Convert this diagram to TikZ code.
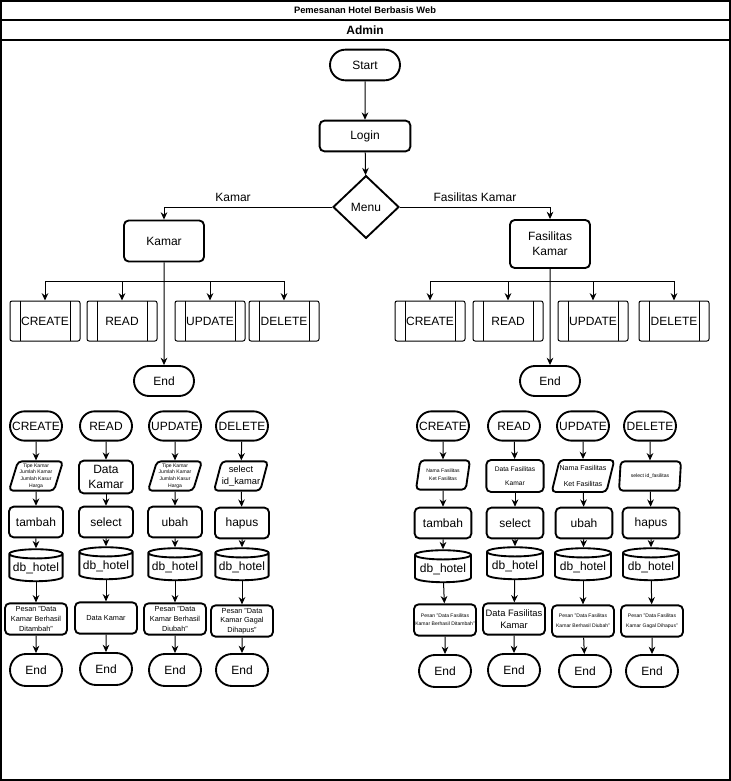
\documentclass[tikz,border=0pt]{standalone}
\usepackage{fontspec}
\setmainfont{Liberation Sans}
\usetikzlibrary{shapes.geometric,shapes.misc,arrows.meta}

\tikzset{every picture/.style={line width=0.75pt}}
\tikzset{
  arrow/.style={-{Stealth[length=5.5pt,width=5pt]}},
  term/.style={rounded rectangle, draw, line width=1.4pt, minimum width=39pt, minimum height=22pt, inner sep=0pt, font=\fontsize{9}{10}\selectfont},
  box/.style={rectangle, draw, rounded corners=3.5pt, line width=1.4pt, minimum width=40.5pt, minimum height=23pt, inner sep=1pt, align=center, font=\fontsize{9}{10}\selectfont},
  io/.style={trapezium, trapezium left angle=70, trapezium right angle=110, trapezium stretches body, draw, rounded corners=3pt, line width=1.4pt, minimum width=40.5pt, minimum height=22pt, inner sep=0pt, align=center},
  db/.style={cylinder, shape border rotate=90, aspect=0.2, draw, line width=1.4pt, minimum width=40pt, minimum height=24pt, inner sep=0pt, font=\fontsize{9}{10}\selectfont},
  msg/.style={rectangle, draw, rounded corners=3.5pt, line width=1.4pt, minimum width=46.5pt, minimum height=23.5pt, inner sep=0pt, align=center},
  proc/.style={rectangle, draw, rounded corners=1.5pt, minimum width=52.5pt, minimum height=30pt, inner sep=0pt, font=\fontsize{9}{10}\selectfont,
    path picture={\draw ([xshift=7.5pt]path picture bounding box.north west) -- ([xshift=7.5pt]path picture bounding box.south west);
                  \draw ([xshift=-7.5pt]path picture bounding box.north east) -- ([xshift=-7.5pt]path picture bounding box.south east);}},
  decision/.style={diamond, draw, line width=1.4pt, minimum width=49.5pt, minimum height=47pt, inner sep=0pt, font=\fontsize{9}{10}\selectfont},
  lbl/.style={inner sep=0.75pt, font=\fontsize{9}{10}\selectfont}
}

\begin{document}
\begin{tikzpicture}[x=0.75pt,y=0.75pt,yscale=-1,xscale=1]
\useasboundingbox (0,0) rectangle (731,781);

%Shape: Frame
\draw [line width=1.1pt] (1,1) rectangle (730,780) ;
\draw [line width=1.1pt] (1,20) -- (730,20) ;
\draw [line width=1.1pt] (1,40) -- (730,40) ;
% Text Node
\node (title) at (365,10) [inner sep=0pt, font=\bfseries\fontsize{7}{8}\selectfont] {Pemesanan Hotel Berbasis Web};
% Text Node
\node (admin) at (365,30) [inner sep=0pt, font=\bfseries\fontsize{9}{10}\selectfont] {Admin};

%Shape: Main flow
\node [term, minimum width=52.5pt, minimum height=23pt] (start) at (365,65) {Start};
\node [box, minimum width=68pt, minimum height=23pt] (login) at (365,136) {Login};
\node [decision] (menu) at (366,207) {Menu};
\node [box, minimum width=60pt, minimum height=30.75pt] (kamar) at (164,241) {Kamar};
\node [box, minimum width=60pt, minimum height=36pt, font=\fontsize{9}{11.25}\selectfont] (fkamar) at (550,244) {Fasilitas\\Kamar};
% Text Node
\node [lbl] (lkamar) at (233,197) {Kamar};
% Text Node
\node [lbl] (lfkamar) at (475,197) {Fasilitas Kamar};

%Straight Lines
\draw [arrow] (start) -- (login) ;
\draw [arrow] (login) -- (menu) ;
\draw [arrow] (menu.west) -| (kamar.north) ;
\draw [arrow] (menu.east) -| (fkamar.north) ;

%Shape: Kamar menu
\coordinate (kbus) at (164,281);
\node [proc] (kcreate) at (45,321) {CREATE};
\node [proc] (kread) at (122,321) {READ};
\node [proc] (kupdate) at (210,321) {UPDATE};
\node [proc] (kdelete) at (284,321) {DELETE};
\node [term, minimum width=45pt, minimum height=22.5pt] (kend) at (164,381) {End};

%Shape: Fasilitas Kamar menu
\coordinate (fbus) at (550,281);
\node [proc] (fcreate) at (430,321) {CREATE};
\node [proc] (fread) at (508,321) {READ};
\node [proc] (fupdate) at (593,321) {UPDATE};
\node [proc] (fdelete) at (674,321) {DELETE};
\node [term, minimum width=45pt, minimum height=22.5pt] (fend) at (550,381) {End};

%Straight Lines
\draw [arrow] (kamar) -- (kend) ;
\draw [arrow] (fkamar) -- (fend) ;
\foreach \b/\n in {kbus/kcreate, kbus/kread, kbus/kupdate, kbus/kdelete, fbus/fcreate, fbus/fread, fbus/fupdate, fbus/fdelete}
  \draw [arrow] (\b) -| (\n) ;

%Shape: Kamar CREATE
\node [term] (kc1) at (36,426) {CREATE};
\node [io, font=\fontsize{3.8}{5}\selectfont] (kc2) at (36,476) {Tipe Kamar\\Jumlah Kamar\\Jumlah Kasur\\Harga};
\node [box] (kc3) at (36,522) {tambah};
\node [db] (kc4) at (36,568) {db\_hotel};
\node [msg, font=\fontsize{5.5}{7.3}\selectfont] (kc5) at (36,619) {Pesan "Data\\Kamar Berhasil\\Ditambah"};
\node [term, minimum height=24pt] (kc6) at (36,670) {End};

%Shape: Kamar READ
\node [term] (kr1) at (106,426) {READ};
\node [box, minimum height=24.5pt, font=\fontsize{9}{11}\selectfont] (kr2) at (106,477) {Data\\Kamar};
\node [box] (kr3) at (106,522) {select};
\node [db] (kr4) at (106,566) {db\_hotel};
\node [msg, font=\fontsize{5.5}{7.3}\selectfont] (kr5) at (106,618) {Data Kamar};
\node [term, minimum height=24pt] (kr6) at (106,669) {End};

%Shape: Kamar UPDATE
\node [term] (ku1) at (175,426) {UPDATE};
\node [io, font=\fontsize{3.8}{5}\selectfont] (ku2) at (175,476) {Tipe Kamar\\Jumlah Kamar\\Jumlah Kasur\\Harga};
\node [box] (ku3) at (175,522) {ubah};
\node [db] (ku4) at (175,567) {db\_hotel};
\node [msg, font=\fontsize{5.5}{7.3}\selectfont] (ku5) at (175,619) {Pesan "Data\\Kamar Berhasil\\Diubah"};
\node [term, minimum height=24pt] (ku6) at (175,670) {End};

%Shape: Kamar DELETE
\node [term] (kd1) at (242,426) {DELETE};
\node [io, font=\fontsize{7}{9.5}\selectfont] (kd2) at (241,476) {select\\id\_kamar};
\node [box] (kd3) at (242,523) {hapus};
\node [db] (kd4) at (242,567) {db\_hotel};
\node [msg, font=\fontsize{5.5}{7.3}\selectfont] (kd5) at (242,621) {Pesan "Data\\Kamar Gagal\\Dihapus"};
\node [term, minimum height=24pt] (kd6) at (242,670) {End};

%Shape: Fasilitas CREATE
\node [term] (fc1) at (443,426) {CREATE};
\node [io, font=\fontsize{3.8}{6}\selectfont] (fc2) at (443,475) {Nama Fasilitas\\Ket Fasilitas};
\node [box, minimum width=42.5pt] (fc3) at (443,523) {tambah};
\node [db, minimum width=42pt] (fc4) at (443,569) {db\_hotel};
\node [msg, font=\fontsize{3.8}{6}\selectfont] (fc5) at (445,620) {Pesan "Data Fasilitas\\Kamar Berhasil Ditambah"};
\node [term, minimum height=24pt] (fc6) at (445,671) {End};

%Shape: Fasilitas READ
\node [term] (fr1) at (514,426) {READ};
\node [box, minimum width=43pt, minimum height=24pt, font=\fontsize{5}{10.5}\selectfont] (fr2) at (515,476) {Data Fasilitas\\Kamar};
\node [box, minimum width=42.5pt] (fr3) at (515,523) {select};
\node [db, minimum width=42pt] (fr4) at (515,566) {db\_hotel};
\node [msg, font=\fontsize{7}{8.5}\selectfont] (fr5) at (514,619) {Data Fasilitas\\Kamar};
\node [term, minimum height=24pt] (fr6) at (514,670) {End};

%Shape: Fasilitas UPDATE
\node [term] (fu1) at (583,426) {UPDATE};
\node [io, minimum width=45pt, minimum height=24pt, font=\fontsize{5.3}{12.5}\selectfont] (fu2) at (583,476) {Nama Fasilitas\\Ket Fasilitas};
\node [box, minimum width=42.5pt] (fu3) at (584,523) {ubah};
\node [db, minimum width=42pt] (fu4) at (583,567) {db\_hotel};
\node [msg, font=\fontsize{3.8}{7.5}\selectfont] (fu5) at (583,621) {Pesan "Data Fasilitas\\Kamar Berhasil Diubah"};
\node [term, minimum height=24pt] (fu6) at (585,671) {End};

%Shape: Fasilitas DELETE
\node [term] (fd1) at (650,426) {DELETE};
\node [io, minimum width=46.5pt, font=\fontsize{3.8}{5}\selectfont] (fd2) at (650,476) {select id\_fasilitas};
\node [box, minimum width=42.5pt] (fd3) at (651,523) {hapus};
\node [db, minimum width=42pt] (fd4) at (651,567) {db\_hotel};
\node [msg, font=\fontsize{3.8}{7.5}\selectfont] (fd5) at (652,621) {Pesan "Data Fasilitas\\Kamar Gagal Dihapus"};
\node [term, minimum height=24pt] (fd6) at (652,671) {End};

%Straight Lines
\foreach \c in {kc,kr,ku,kd,fc,fr,fu,fd} {
  \draw [arrow] (\c1) -- (\c2) ;
  \draw [arrow] (\c2) -- (\c3) ;
  \draw [arrow] (\c3) -- (\c4) ;
  \draw [arrow] (\c4) -- (\c5) ;
  \draw [arrow] (\c5) -- (\c6) ;
}

\end{tikzpicture}
\end{document}
